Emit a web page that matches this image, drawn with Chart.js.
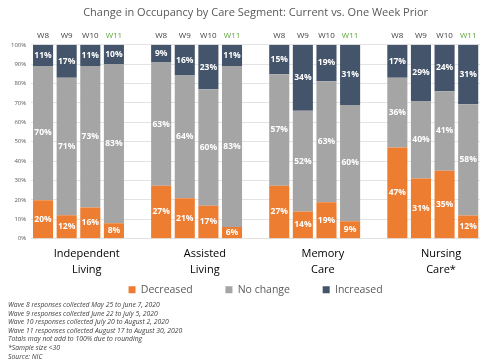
<!DOCTYPE html>
<html>
<head>
<meta charset="utf-8">
<script src="https://cdn.jsdelivr.net/npm/chart.js@4"></script>
<style>
  html,body{margin:0;padding:0;background:#fff;}
  #wrap{position:relative;width:489px;height:362px;}
  #notes{position:absolute;left:8px;top:301px;font-family:"Open Sans",sans-serif;font-style:italic;font-size:6.8px;line-height:8.6px;color:#404040;white-space:nowrap;}
</style>
</head>
<body>
<div id="wrap">
  <canvas id="c" width="489" height="362"></canvas>
  <div id="notes"></div>
</div>
<script>
const titleText = 'Change in Occupancy by Care Segment: Current vs. One Week Prior';
const groups = [['Independent','Living'],['Assisted','Living'],['Memory','Care'],['Nursing','Care*']];
const waves = ['W8','W9','W10','W11'];
const seriesNames = ['Decreased','No change','Increased'];
// values per group, per wave (W8, W9, W10, W11), in percent
const decreased = [[20,12,16,8],[27,21,17,6],[27,14,19,9],[47,31,35,12]];
const noChange  = [[70,71,73,83],[63,64,60,83],[57,52,63,60],[36,40,41,58]];
const increased = [[11,17,11,10],[9,16,23,11],[15,34,19,31],[17,29,24,31]];
const yTicks = [0,10,20,30,40,50,60,70,80,90,100];
const notes = [
  'Wave 8 responses collected May 25 to June 7, 2020',
  'Wave 9 responses collected June 22 to July 5, 2020',
  'Wave 10 responses collected July 20 to August 2, 2020',
  'Wave 11 responses collected August 17 to August 30, 2020',
  'Totals may not add to 100% due to rounding',
  '*Sample size <30',
  'Source: NIC'
];

document.getElementById('notes').innerHTML = notes.map(t => '<div>' + t.replace(/</g,'&lt;') + '</div>').join('');

const colors = ['#ED7D31','#A5A5A5','#44546A'];
const FONT = '"Open Sans", sans-serif';

// flat category list: 4 waves per group with an empty slot between groups
const labels = [];
const slotRef = []; // [groupIndex, waveIndex] or null
groups.forEach((g, gi) => {
  waves.forEach((w, wi) => { labels.push(w); slotRef.push([gi, wi]); });
  if (gi < groups.length - 1) { labels.push(''); slotRef.push(null); }
});

const raw = [decreased, noChange, increased];
function share(si) {
  // 100% stacked: each bar scaled to its total (like the source's 100% stacked chart)
  return slotRef.map(r => {
    if (!r) return null;
    const [gi, wi] = r;
    const total = raw.reduce((s, arr) => s + arr[gi][wi], 0);
    return raw[si][gi][wi] / total * 100;
  });
}
function rawVals(si) {
  return slotRef.map(r => r ? raw[si][r[0]][r[1]] : null);
}

const datasets = seriesNames.map((n, si) => ({
  label: n,
  data: share(si),
  rawValues: rawVals(si),
  backgroundColor: colors[si],
  borderWidth: 0,
  barPercentage: 0.85,
  categoryPercentage: 1.0,
  xAxisID: 'x',
  yAxisID: 'y'
}));

const groupCenters = groups.map((g, gi) => gi * 5 + 1.5 + 0.35);

const valueLabels = {
  id: 'valueLabels',
  afterDatasetsDraw(chart) {
    const ctx = chart.ctx;
    ctx.save();
    ctx.fillStyle = '#ffffff';
    ctx.font = 'bold 8.5px ' + FONT;
    ctx.textAlign = 'center';
    ctx.textBaseline = 'middle';
    chart.data.datasets.forEach((ds, di) => {
      const meta = chart.getDatasetMeta(di);
      meta.data.forEach((el, i) => {
        const v = ds.rawValues[i];
        if (v == null) return;
        ctx.fillText(v + '%', el.x, (el.y + el.base) / 2);
      });
    });
    ctx.restore();
  }
};

new Chart(document.getElementById('c'), {
  type: 'bar',
  data: { labels: labels, datasets: datasets },
  plugins: [valueLabels],
  options: {
    responsive: false,
    animation: false,
    layout: { padding: { left: 6, right: 9, top: 4, bottom: 57 } },
    plugins: {
      title: {
        display: true,
        fullSize: false,
        text: titleText,
        color: '#595959',
        font: { family: FONT, size: 11, weight: 'normal' },
        padding: { top: 2, bottom: 8 }
      },
      legend: {
        position: 'bottom',
        fullSize: false,
        labels: {
          color: '#595959',
          font: { family: FONT, size: 10.5 },
          boxWidth: 7,
          boxHeight: 7,
          padding: 0,
          generateLabels: chart => {
            const items = Chart.defaults.plugins.legend.labels.generateLabels(chart);
            items.forEach((it, i) => {
              if (i < items.length - 1) it.text = it.text + '\u00A0'.repeat(12);
            });
            return items;
          }
        }
      },
      tooltip: { enabled: false }
    },
    scales: {
      x: {
        type: 'category',
        position: 'top',
        stacked: true,
        grid: { display: false, drawTicks: false },
        border: { display: false },
        ticks: {
          autoSkip: false,
          maxRotation: 0,
          padding: 4,
          font: { family: FONT, size: 8 },
          color: ctx => (ctx.tick && ctx.tick.label === 'W11') ? '#5EA33A' : '#404040'
        }
      },
      x2: {
        type: 'linear',
        position: 'bottom',
        offset: false,
        bounds: 'data',
        min: -0.5,
        max: labels.length - 0.5,
        grid: { display: false, drawTicks: false, offset: false },
        border: { display: false },
        afterBuildTicks: axis => { axis.ticks = groupCenters.map(v => ({ value: v })); },
        ticks: {
          autoSkip: false,
          maxRotation: 0,
          padding: 7,
          color: '#000000',
          font: { family: FONT, size: 11, lineHeight: 1.45 },
          callback: (v, i) => groups[i]
        }
      },
      y: {
        stacked: true,
        min: 0,
        max: 100,
        afterBuildTicks: axis => { axis.ticks = yTicks.map(v => ({ value: v })); },
        grid: { color: '#D9D9D9', lineWidth: 0.75, drawTicks: false },
        border: { display: false },
        ticks: {
          padding: 5,
          color: '#595959',
          font: { family: FONT, size: 6 },
          callback: v => v + '%'
        }
      }
    }
  }
});
</script>
</body>
</html>
